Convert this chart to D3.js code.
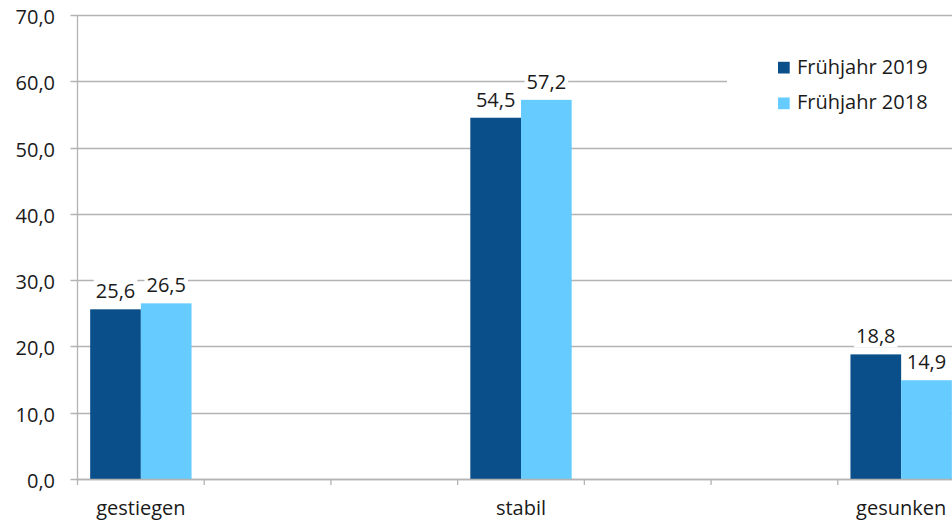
<!DOCTYPE html>
<html>
<head>
<meta charset="utf-8">
<script src="https://cdn.jsdelivr.net/npm/d3@7"></script>
<style>
  html, body { margin: 0; padding: 0; background: #fff; }
  svg { display: block; font-family: "Open Sans", "Noto Sans", sans-serif; }
</style>
</head>
<body>
<svg id="chart" width="952" height="523"></svg>
<script>
// Category slots on the x axis (empty strings are unlabeled slots)
const categories = ["gestiegen", "", "", "stabil", "", "", "gesunken"];
const seriesNames = ["Frühjahr 2019", "Frühjahr 2018"];
const values2019 = [25.6, null, null, 54.5, null, null, 18.8];
const values2018 = [26.5, null, null, 57.2, null, null, 14.9];
const yTicks = [0, 10, 20, 30, 40, 50, 60, 70];
const colors = ["#0b4f8a", "#66ccff"];

const svg = d3.select("#chart");
const margin = { left: 77.5 };
const plotRight = 964.5;
const FS = 20;

const idx = d3.range(categories.length);
const x = d3.scaleBand().domain(idx).range([margin.left, plotRight]).paddingInner(0).paddingOuter(0);
const bw = x.bandwidth();
const x1 = d3.scaleBand().domain(seriesNames).range([0.1 * bw, 0.9 * bw]);
const y = d3.scaleLinear().domain([0, 70]).range([479, 15]);

const fmt = v => d3.format(".1f")(v).replace(".", ",");
const textColor = "#1a1a1a";
const gridColor = "#b3b3b3";

// gridlines
svg.append("g").selectAll("line").data(yTicks).join("line")
  .attr("x1", margin.left - 7).attr("x2", plotRight)
  .attr("y1", d => Math.round(y(d)) + 0.5).attr("y2", d => Math.round(y(d)) + 0.5)
  .attr("stroke", gridColor).attr("stroke-width", 1.3);

// y labels
svg.append("g").selectAll("text").data(yTicks).join("text")
  .attr("x", 55).attr("y", d => y(d) + 9)
  .attr("text-anchor", "end").attr("font-size", FS).attr("fill", textColor)
  .text(d => fmt(d));

// y axis line
svg.append("line").attr("x1", margin.left).attr("x2", margin.left)
  .attr("y1", y(70)).attr("y2", y(0)).attr("stroke", gridColor).attr("stroke-width", 1.3);

// x ticks at band boundaries
const bounds = idx.map(i => x(i)).concat([plotRight]);
svg.append("g").selectAll("line").data(bounds).join("line")
  .attr("x1", d => d).attr("x2", d => d)
  .attr("y1", y(0)).attr("y2", y(0) + 6)
  .attr("stroke", gridColor).attr("stroke-width", 1.3);

// legend background box
svg.append("rect").attr("x", 727).attr("y", 36).attr("width", 240).attr("height", 95).attr("fill", "#fff");

// bars
const rows = idx.map(i => ({ i, vals: [values2019[i], values2018[i]] }));
const groups = svg.append("g").selectAll("g").data(rows.filter(r => r.vals[0] != null)).join("g")
  .attr("transform", d => `translate(${x(d.i)},0)`);
groups.selectAll("rect").data(d => d.vals.map((v, k) => ({ v, k }))).join("rect")
  .attr("x", d => x1(seriesNames[d.k]))
  .attr("width", x1.bandwidth())
  .attr("y", d => y(d.v))
  .attr("height", d => y(0) - y(d.v))
  .attr("fill", d => colors[d.k]);

// x axis baseline
svg.append("line").attr("x1", margin.left).attr("x2", plotRight)
  .attr("y1", Math.round(y(0)) + 0.5).attr("y2", Math.round(y(0)) + 0.5)
  .attr("stroke", gridColor).attr("stroke-width", 1.3);

// value labels with white background
const labels = groups.selectAll("g.lab").data(d => d.vals.map((v, k) => ({ v, k }))).join("g").attr("class", "lab");
labels.each(function(d) {
  const g = d3.select(this);
  const cx = x1(seriesNames[d.k]) + x1.bandwidth() / 2;
  const t = g.append("text").attr("x", cx).attr("y", y(d.v) - 11)
    .attr("text-anchor", "middle").attr("font-size", FS).attr("fill", textColor).text(fmt(d.v));
  const bb = t.node().getBBox();
  g.insert("rect", "text").attr("x", bb.x - 2).attr("y", bb.y + 1).attr("width", bb.width + 4).attr("height", bb.height - 3).attr("fill", "#fff");
});

// category labels
svg.append("g").selectAll("text").data(idx.filter(i => categories[i] !== "")).join("text")
  .attr("x", i => x(i) + bw / 2).attr("y", 515)
  .attr("text-anchor", "middle").attr("font-size", FS).attr("fill", textColor)
  .text(i => categories[i]);

// legend
const leg = svg.append("g").selectAll("g").data(seriesNames).join("g")
  .attr("transform", (d, k) => `translate(778,${73.5 + k * 35.7})`);
leg.append("rect").attr("x", 0).attr("y", -11.7).attr("width", 11.7).attr("height", 11.7).attr("fill", (d, k) => colors[k]);
leg.append("text").attr("x", 19).attr("y", 0).attr("font-size", FS).attr("fill", textColor).text(d => d);
</script>
</body>
</html>
